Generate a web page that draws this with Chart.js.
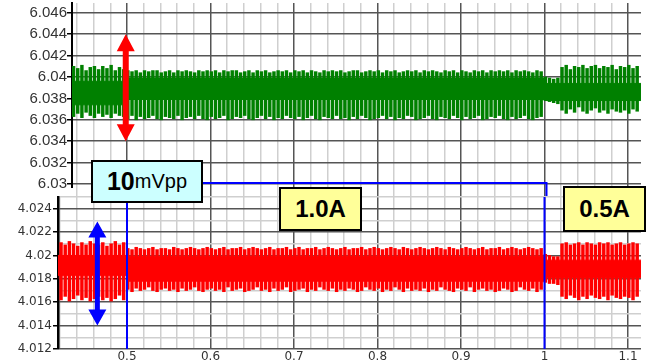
<!DOCTYPE html>
<html>
<head>
<meta charset="utf-8">
<script src="https://cdn.jsdelivr.net/npm/chart.js@4.4.1/dist/chart.umd.min.js"></script>
<style>
  html, body { margin: 0; padding: 0; background: #fff; }
  #wrap { position: relative; width: 654px; height: 364px; overflow: hidden; background: #fff; }
  canvas { position: absolute; left: 0; }
  .tag {
    position: absolute; box-sizing: border-box; border: 2px solid #000;
    font-family: 'Liberation Sans', Arial, sans-serif; color: #000;
    display: flex; align-items: center; justify-content: center; white-space: nowrap;
  }
  .tag.cyan { background: #ccffff; font-size: 20px; }
  .tag.cyan b { font-size: 25px; }
  .tag.yellow { background: #ffff99; font-size: 24px; font-weight: bold; }
</style>
</head>
<body>
<div id="wrap">
  <canvas id="topPanel" width="654" height="200" style="top:0;width:654px;height:200px"></canvas>
  <canvas id="bottomPanel" width="654" height="176" style="top:188px;width:654px;height:176px"></canvas>
  <div class="tag cyan" style="left:91px;top:160px;width:112px;height:43px"><b>10</b>mVpp</div>
  <div class="tag yellow" style="left:279px;top:187px;width:83px;height:44px">1.0A</div>
  <div class="tag yellow" style="left:563px;top:186px;width:83px;height:46px">0.5A</div>
</div>
<script>
// axis labels
const xTicks = [0.5, 0.6, 0.7, 0.8, 0.9, 1.0, 1.1];
const greenTicks = [6.030, 6.032, 6.034, 6.036, 6.038, 6.040, 6.042, 6.044, 6.046];
const redTicks = [4.012, 4.014, 4.016, 4.018, 4.020, 4.022, 4.024];

// ripple peaks, one pair per switching cycle
const samplePeriod = 0.005;
const greenStart = 0.436;
const redStart = 0.421;

const greenHigh = [
  6.0410, 6.0408, 6.0411, 6.0406, 6.0409, 6.0410, 6.0407, 6.0410, 6.0408, 6.0411, 6.0406, 6.0409, 6.0407,
  6.0406, 6.0405, 6.0406, 6.0404, 6.0406, 6.0405, 6.0406, 6.0406, 6.0404, 6.0405,
  6.0406, 6.0404, 6.0406, 6.0405, 6.0406, 6.0405, 6.0404, 6.0406, 6.0405, 6.0406,
  6.0405, 6.0406, 6.0404, 6.0406, 6.0405, 6.0406, 6.0406, 6.0404, 6.0405, 6.0406,
  6.0404, 6.0406, 6.0405, 6.0406, 6.0404, 6.0405, 6.0406, 6.0405, 6.0406, 6.0404,
  6.0406, 6.0405, 6.0406, 6.0404, 6.0406, 6.0405, 6.0404, 6.0406, 6.0405, 6.0406,
  6.0405, 6.0406, 6.0404, 6.0405, 6.0406, 6.0406, 6.0404, 6.0405, 6.0406, 6.0405,
  6.0406, 6.0404, 6.0406, 6.0405, 6.0406, 6.0404, 6.0405, 6.0406, 6.0405, 6.0406,
  6.0404, 6.0406, 6.0405, 6.0406, 6.0405, 6.0404, 6.0406, 6.0405, 6.0406, 6.0404,
  6.0406, 6.0405, 6.0404, 6.0406, 6.0405, 6.0406, 6.0404, 6.0406, 6.0405, 6.0406,
  6.0405, 6.0406, 6.0404, 6.0406, 6.0405, 6.0406, 6.0405, 6.0404, 6.0406, 6.0405,
  6.0400, 6.0399, 6.0398, 6.0399,
  6.0409, 6.0411, 6.0407, 6.0410, 6.0409, 6.0411, 6.0408, 6.0410, 6.0411, 6.0408,
  6.0410, 6.0409, 6.0411, 6.0407, 6.0410, 6.0409, 6.0411, 6.0408, 6.0410
];
const greenLow = [
  6.0363, 6.0366, 6.0362, 6.0367, 6.0364, 6.0362, 6.0366, 6.0363, 6.0365, 6.0362, 6.0366, 6.0364, 6.0363,
  6.0361, 6.0364, 6.0360, 6.0363, 6.0361, 6.0362, 6.0364, 6.0361, 6.0360, 6.0363,
  6.0362, 6.0361, 6.0364, 6.0360, 6.0362, 6.0363, 6.0361, 6.0364, 6.0361, 6.0360,
  6.0363, 6.0361, 6.0362, 6.0364, 6.0360, 6.0361, 6.0363, 6.0362, 6.0364, 6.0361,
  6.0360, 6.0362, 6.0364, 6.0361, 6.0363, 6.0360, 6.0362, 6.0361, 6.0364, 6.0362,
  6.0361, 6.0363, 6.0360, 6.0362, 6.0364, 6.0361, 6.0360, 6.0363, 6.0362, 6.0361,
  6.0364, 6.0361, 6.0362, 6.0360, 6.0363, 6.0361, 6.0364, 6.0362, 6.0360, 6.0361,
  6.0362, 6.0364, 6.0361, 6.0363, 6.0360, 6.0362, 6.0361, 6.0364, 6.0363, 6.0360,
  6.0361, 6.0362, 6.0364, 6.0361, 6.0360, 6.0363, 6.0362, 6.0361, 6.0364, 6.0362,
  6.0360, 6.0363, 6.0361, 6.0362, 6.0364, 6.0360, 6.0361, 6.0363, 6.0362, 6.0364,
  6.0361, 6.0360, 6.0363, 6.0361, 6.0362, 6.0364, 6.0361, 6.0360, 6.0362, 6.0363,
  6.0378, 6.0377, 6.0376, 6.0375,
  6.0369, 6.0366, 6.0370, 6.0367, 6.0372, 6.0368, 6.0366, 6.0369, 6.0371, 6.0367,
  6.0369, 6.0366, 6.0370, 6.0368, 6.0367, 6.0369, 6.0366, 6.0370, 6.0368
];

const redHigh = [
  4.0211, 4.0209, 4.0212, 4.0210, 4.0208, 4.0211, 4.0209, 4.0212, 4.0210, 4.0209, 4.0211, 4.0208, 4.0210, 4.0212, 4.0209, 4.0211,
  4.0206, 4.0205, 4.0207, 4.0206, 4.0205, 4.0206, 4.0207, 4.0205, 4.0206, 4.0206,
  4.0205, 4.0207, 4.0206, 4.0205, 4.0206, 4.0207, 4.0206, 4.0205, 4.0206, 4.0207,
  4.0206, 4.0205, 4.0206, 4.0207, 4.0205, 4.0206, 4.0206, 4.0207, 4.0205, 4.0206,
  4.0207, 4.0206, 4.0205, 4.0206, 4.0207, 4.0205, 4.0206, 4.0206, 4.0207, 4.0205,
  4.0206, 4.0207, 4.0205, 4.0206, 4.0206, 4.0207, 4.0205, 4.0206, 4.0207, 4.0206,
  4.0205, 4.0206, 4.0207, 4.0205, 4.0206, 4.0206, 4.0207, 4.0205, 4.0206, 4.0207,
  4.0206, 4.0205, 4.0206, 4.0207, 4.0206, 4.0205, 4.0207, 4.0206, 4.0205, 4.0206,
  4.0207, 4.0206, 4.0205, 4.0206, 4.0207, 4.0206, 4.0205, 4.0207, 4.0206, 4.0205,
  4.0206, 4.0207, 4.0206, 4.0205, 4.0206, 4.0207, 4.0205, 4.0206, 4.0206, 4.0207,
  4.0205, 4.0206, 4.0207, 4.0206, 4.0205, 4.0206, 4.0207, 4.0206, 4.0205, 4.0206,
  4.0201, 4.0200, 4.0199, 4.0199,
  4.0210, 4.0211, 4.0209, 4.0210, 4.0211, 4.0209, 4.0211, 4.0210, 4.0209, 4.0211,
  4.0210, 4.0211, 4.0209, 4.0210, 4.0211, 4.0209, 4.0210, 4.0211, 4.0210
];
const redLow = [
  4.0162, 4.0165, 4.0161, 4.0163, 4.0166, 4.0162, 4.0164, 4.0161, 4.0163, 4.0165, 4.0162, 4.0164, 4.0161, 4.0163, 4.0166, 4.0162,
  4.0171, 4.0169, 4.0172, 4.0170, 4.0171, 4.0173, 4.0170, 4.0169, 4.0171, 4.0172,
  4.0170, 4.0171, 4.0169, 4.0172, 4.0170, 4.0171, 4.0173, 4.0170, 4.0169, 4.0171,
  4.0172, 4.0170, 4.0171, 4.0169, 4.0173, 4.0170, 4.0171, 4.0172, 4.0169, 4.0170,
  4.0171, 4.0173, 4.0170, 4.0171, 4.0169, 4.0172, 4.0170, 4.0171, 4.0173, 4.0169,
  4.0170, 4.0171, 4.0172, 4.0169, 4.0171, 4.0170, 4.0173, 4.0171, 4.0170, 4.0172,
  4.0169, 4.0171, 4.0170, 4.0172, 4.0171, 4.0169, 4.0170, 4.0173, 4.0171, 4.0170,
  4.0172, 4.0169, 4.0171, 4.0170, 4.0173, 4.0171, 4.0169, 4.0172, 4.0170, 4.0171,
  4.0170, 4.0172, 4.0169, 4.0171, 4.0170, 4.0173, 4.0171, 4.0170, 4.0169, 4.0172,
  4.0171, 4.0170, 4.0173, 4.0169, 4.0171, 4.0172, 4.0170, 4.0171, 4.0169, 4.0170,
  4.0172, 4.0171, 4.0169, 4.0170, 4.0173, 4.0171, 4.0170, 4.0172, 4.0169, 4.0171,
  4.0177, 4.0176, 4.0176, 4.0175,
  4.0165, 4.0163, 4.0166, 4.0164, 4.0162, 4.0165, 4.0163, 4.0166, 4.0164, 4.0163,
  4.0165, 4.0162, 4.0166, 4.0164, 4.0163, 4.0165, 4.0164, 4.0162, 4.0165
];

// dense middle of the trace, per load segment
const greenCoreEdges = [0.434, 0.5, 1.0, 1.02, 1.116];
const greenCoreHigh = [6.0397, 6.0396, 6.0399, 6.0394];
const greenCoreLow = [6.0377, 6.0374, 6.0379, 6.0378];
const redCoreEdges = [0.417, 0.5, 1.0, 1.02, 1.116];
const redCoreHigh = [4.0197, 4.0200, 4.0199, 4.0196];
const redCoreLow = [4.0180, 4.0183, 4.0178, 4.0181];

const GREEN = '#008000';
const RED = '#ff0000';
const BLUE = '#0000ff';
const MAJOR_GRID = '#555555';
const MINOR_GRID = '#cfcfcf';
const LABEL_COLOR = '#333333';

Chart.defaults.font.family = "'Liberation Sans', Arial, sans-serif";

const isMajorX = v => xTicks.some(t => Math.abs(t - v) < 1e-6);
const isLabelY = (ticks, v) => ticks.some(t => Math.abs(t - v) < 1e-7);
const fmt = v => String(parseFloat(v.toFixed(3)));

function spikes(start, high, low) {
    return high.map((hi, i) => ({ x: start + i * samplePeriod, y: [low[i], hi] }));
}

function coreLine(edges, values) {
    const pts = values.map((v, i) => ({ x: edges[i], y: v }));
    pts.push({ x: edges[edges.length - 1], y: values[values.length - 1] });
    return pts;
}

function gridSteps(from, to, step) {
    const out = [];
    for (let v = from; v <= to + 1e-9; v += step) out.push({ value: Math.round(v * 10000) / 10000 });
    return out;
}

// fix an axis box so the plot area lands where the original one sits
function fixBox(size, key) {
    return s => {
        s[key] = size;
        s.paddingTop = 0; s.paddingBottom = 0; s.paddingLeft = 0; s.paddingRight = 0;
    };
}

function drawArrow(ctx, x, yTop, yBottom, color, shaft, headW, headL) {
    ctx.save();
    ctx.fillStyle = color;
    ctx.fillRect(x - shaft / 2, yTop + headL - 1, shaft, yBottom - yTop - 2 * headL + 2);
    ctx.beginPath();
    ctx.moveTo(x, yTop);
    ctx.lineTo(x - headW / 2, yTop + headL);
    ctx.lineTo(x + headW / 2, yTop + headL);
    ctx.closePath();
    ctx.moveTo(x, yBottom);
    ctx.lineTo(x - headW / 2, yBottom - headL);
    ctx.lineTo(x + headW / 2, yBottom - headL);
    ctx.closePath();
    ctx.fill();
    ctx.restore();
}

function traceDatasets(color, coreEdges, coreHigh, coreLow, start, high, low) {
    return [
        { type: 'line', data: coreLine(coreEdges, coreHigh), stepped: 'after', borderColor: color, borderWidth: 1, pointRadius: 0, fill: false },
        { type: 'line', data: coreLine(coreEdges, coreLow), stepped: 'after', borderColor: color, borderWidth: 1, pointRadius: 0, fill: '-1', backgroundColor: color },
        { type: 'bar', data: spikes(start, high, low), backgroundColor: color, barThickness: 2.8, borderWidth: 0 }
    ];
}

// top panel: output voltage
const topMarkers = {
    id: 'topMarkers',
    afterDatasetsDraw(chart) {
        const { ctx, chartArea, scales: { x, y } } = chart;
        const yLine = y.getPixelForValue(6.0301);
        const xEnd = x.getPixelForValue(1.0024);
        ctx.save();
        ctx.strokeStyle = BLUE;
        ctx.lineWidth = 2;
        ctx.beginPath();
        ctx.moveTo(x.getPixelForValue(0.5), yLine);
        ctx.lineTo(xEnd, yLine);
        ctx.lineTo(xEnd, chartArea.bottom);
        ctx.stroke();
        ctx.restore();
        drawArrow(ctx, x.getPixelForValue(0.4985), y.getPixelForValue(6.044), y.getPixelForValue(6.034), RED, 6, 18, 17);
    }
};

new Chart(document.getElementById('topPanel'), {
    type: 'bar',
    data: { datasets: traceDatasets(GREEN, greenCoreEdges, greenCoreHigh, greenCoreLow, greenStart, greenHigh, greenLow) },
    options: {
        responsive: false,
        animation: false,
        devicePixelRatio: 1,
        layout: { padding: { top: 3, right: 13, bottom: 3, left: 0 } },
        plugins: { legend: { display: false }, tooltip: { enabled: false } },
        scales: {
            x: {
                type: 'linear', min: 0.43413, max: 1.11557, offset: false,
                afterBuildTicks: s => { s.ticks = gridSteps(0.44, 1.10, 0.02); },
                afterFit: fixBox(0, 'height'),
                ticks: { display: false, autoSkip: false },
                border: { display: false },
                grid: { offset: false, drawTicks: false, lineWidth: 1.5, color: c => isMajorX(c.tick.value) ? MAJOR_GRID : MINOR_GRID }
            },
            y: {
                type: 'linear', min: 6.028785, max: 6.046916, beginAtZero: false,
                afterBuildTicks: s => { s.ticks = greenTicks.map(v => ({ value: v })); },
                afterFit: fixBox(72, 'width'),
                ticks: { padding: 0, color: LABEL_COLOR, font: { size: 15 }, callback: v => fmt(v) },
                border: { color: '#000', width: 2 },
                grid: { lineWidth: 1.5, color: MAJOR_GRID, tickLength: 5, tickColor: '#000' }
            }
        }
    },
    plugins: [topMarkers]
});

// bottom panel: second output
const bottomMarkers = {
    id: 'bottomMarkers',
    beforeDraw(chart) {
        const { ctx, chartArea } = chart;
        ctx.save();
        ctx.fillStyle = '#fff';
        ctx.fillRect(0, 0, chartArea.left + 18, chartArea.top);
        ctx.fillRect(chartArea.left, chartArea.top, chartArea.right - chartArea.left, chartArea.bottom - chartArea.top);
        ctx.restore();
    },
    afterDatasetsDraw(chart) {
        const { ctx, chartArea, scales: { x, y } } = chart;
        ctx.save();
        ctx.strokeStyle = BLUE;
        ctx.lineWidth = 2;
        ctx.beginPath();
        [0.5, 1.0].forEach(v => {
            const px = x.getPixelForValue(v);
            ctx.moveTo(px, chartArea.top);
            ctx.lineTo(px, chartArea.bottom);
        });
        ctx.stroke();
        ctx.restore();
        drawArrow(ctx, x.getPixelForValue(0.4645), y.getPixelForValue(4.0229), y.getPixelForValue(4.014), BLUE, 5, 18, 16);
    }
};

new Chart(document.getElementById('bottomPanel'), {
    type: 'bar',
    data: { datasets: traceDatasets(RED, redCoreEdges, redCoreHigh, redCoreLow, redStart, redHigh, redLow) },
    options: {
        responsive: false,
        animation: false,
        devicePixelRatio: 1,
        layout: { padding: { top: 9, right: 13, bottom: 0, left: 0 } },
        plugins: { legend: { display: false }, tooltip: { enabled: false } },
        scales: {
            x: {
                type: 'linear', min: 0.41737, max: 1.11557, offset: false,
                afterBuildTicks: s => { s.ticks = gridSteps(0.42, 1.10, 0.02); },
                afterFit: fixBox(15, 'height'),
                ticks: {
                    autoSkip: false, maxRotation: 0, padding: 1, color: LABEL_COLOR,
                    font: { family: "'DejaVu Sans', sans-serif", size: 12 },
                    callback: v => isMajorX(v) ? String(parseFloat(v.toFixed(2))) : ''
                },
                border: { display: false },
                grid: { offset: false, drawTicks: false, lineWidth: 1.5, color: c => isMajorX(c.tick.value) ? MAJOR_GRID : MINOR_GRID }
            },
            y: {
                type: 'linear', min: 4.012, max: 4.025, beginAtZero: false,
                afterBuildTicks: s => { s.ticks = gridSteps(4.012, 4.025, 0.001); },
                afterFit: fixBox(58, 'width'),
                ticks: {
                    autoSkip: false, padding: 1, color: LABEL_COLOR,
                    font: { family: "'DejaVu Sans', sans-serif", size: 12 },
                    callback: v => isLabelY(redTicks, v) ? fmt(v) : ''
                },
                border: { color: '#000', width: 2.5 },
                grid: {
                    lineWidth: 1.5, tickLength: 5,
                    color: c => isLabelY(redTicks, c.tick.value) ? MAJOR_GRID : MINOR_GRID,
                    tickColor: c => isLabelY(redTicks, c.tick.value) ? '#000' : 'rgba(0,0,0,0)'
                }
            }
        }
    },
    plugins: [bottomMarkers]
});
</script>
</body>
</html>
